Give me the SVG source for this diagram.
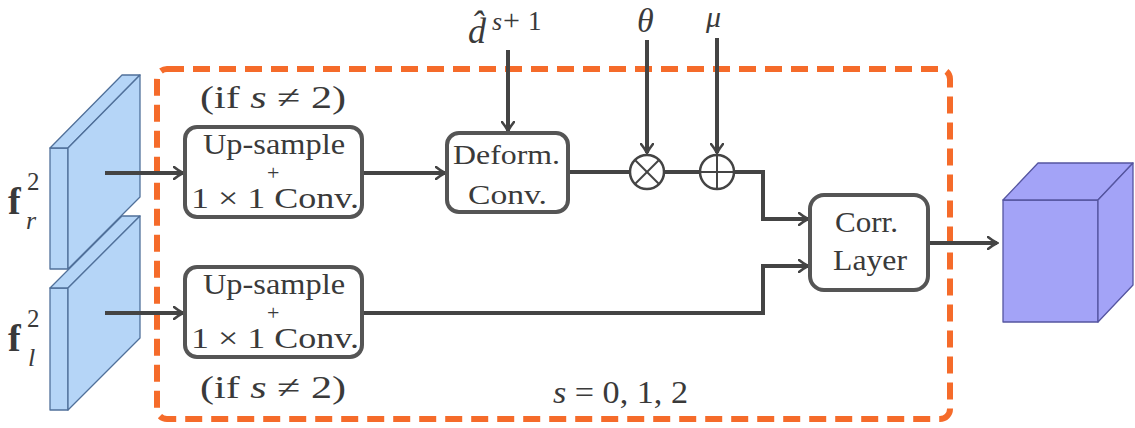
<svg xmlns="http://www.w3.org/2000/svg" width="1135" height="428" viewBox="0 0 1135 428" font-family="'Liberation Serif', serif">
<defs>
<style>
.slab{fill:#b5d5f7;stroke:#50709a;stroke-width:1.3;stroke-linejoin:round}
.cube{fill:#a3a3f7;stroke:#5555a0;stroke-width:1.3;stroke-linejoin:round}
.box{fill:#fff;stroke:#555;stroke-width:4}
.wire{fill:none;stroke:#444;stroke-width:4}
.op{fill:#fff;stroke:#444;stroke-width:2.5}
.t{fill:#3a3a3a}
.m{font-style:italic;fill:#3a3a3a}
.dash{fill:none;stroke:#f56b2a;stroke-width:6;stroke-dasharray:17 9}
</style>
<marker id="arr" viewBox="0 0 12 14" refX="10" refY="7" markerWidth="12" markerHeight="14" markerUnits="userSpaceOnUse" orient="auto">
<path d="M1,1 Q6,5 10,7 Q6,9 1,13" fill="none" stroke="#444" stroke-width="2.6" stroke-linecap="round"/>
</marker>
</defs>
<rect width="1135" height="428" fill="#fff"/>

<g id="feat-r">
<polygon class="slab" points="50,148 68,148 68,269 50,269"/>
<polygon class="slab" points="50,148 122,75 140,75 68,148"/>
<polygon class="slab" points="68,148 140,75 140,197 68,269"/>
</g>
<g id="feat-l">
<polygon class="slab" points="50,288 68,288 68,410 50,410"/>
<polygon class="slab" points="50,288 122,216 140,216 68,288"/>
<polygon class="slab" points="68,288 140,216 140,338 68,410"/>
</g>
<g id="label-fr">
<text class="t" x="8" y="214" font-size="38" font-weight="bold">f</text>
<text class="t" x="27" y="190" font-size="25">2</text>
<text class="m" x="26" y="229" font-size="26">r</text>
</g>
<g id="label-fl">
<text class="t" x="8" y="351" font-size="38" font-weight="bold">f</text>
<text class="t" x="27" y="327" font-size="25">2</text>
<text class="m" x="28" y="366" font-size="26">l</text>
</g>

<g id="stage-box">
<rect class="dash" x="157" y="69" width="793" height="350" rx="10"/>
<text class="m" x="553" y="403" font-size="32" textLength="135" lengthAdjust="spacingAndGlyphs">s <tspan font-style="normal">= 0, 1, 2</tspan></text>
</g>

<g id="connectors">
<line class="wire" x1="105" y1="173" x2="183" y2="173" marker-end="url(#arr)"/>
<line class="wire" x1="105" y1="313" x2="183" y2="313" marker-end="url(#arr)"/>
<line class="wire" x1="362" y1="173" x2="445" y2="173" marker-end="url(#arr)"/>
<line class="wire" x1="568" y1="172" x2="630" y2="172"/>
<line class="wire" x1="664" y1="172" x2="700" y2="172"/>
<polyline class="wire" points="734,172 763,172 763,219 808,219" marker-end="url(#arr)"/>
<polyline class="wire" points="362,313 763,313 763,266 808,266" marker-end="url(#arr)"/>
<line class="wire" x1="928" y1="243" x2="997" y2="243" marker-end="url(#arr)"/>
<line class="wire" x1="508" y1="50" x2="508" y2="131" marker-end="url(#arr)"/>
<line class="wire" x1="647" y1="40" x2="647" y2="153" marker-end="url(#arr)"/>
<line class="wire" x1="717" y1="38" x2="717" y2="153" marker-end="url(#arr)"/>
</g>

<g id="inputs">
<text class="m" x="468" y="43" font-size="36">d&#770;</text>
<text class="m" x="492" y="30" font-size="26">s</text>
<text class="t" x="503" y="30" font-size="30">+</text>
<text class="t" x="528" y="30" font-size="27">1</text>
<text class="m" x="637" y="32" font-size="34">θ</text>
<text class="m" x="706" y="27" font-size="30">μ</text>
</g>

<g id="upsample-top">
<rect class="box" x="185" y="127" width="177" height="90" rx="12"/>
<text class="t" font-size="30"><tspan x="203" y="154" textLength="142" lengthAdjust="spacingAndGlyphs">Up-sample</tspan><tspan x="267" y="180" font-size="22">+</tspan><tspan x="191" y="208" textLength="168" lengthAdjust="spacingAndGlyphs">1 × 1 Conv.</tspan></text>
<text class="t" x="200" y="108" font-size="32" textLength="146" lengthAdjust="spacingAndGlyphs">(if <tspan font-style="italic">s</tspan> ≠ 2)</text>
</g>
<g id="upsample-bottom">
<rect class="box" x="185" y="267" width="177" height="90" rx="12"/>
<text class="t" font-size="30"><tspan x="203" y="294" textLength="142" lengthAdjust="spacingAndGlyphs">Up-sample</tspan><tspan x="267" y="320" font-size="22">+</tspan><tspan x="191" y="348" textLength="168" lengthAdjust="spacingAndGlyphs">1 × 1 Conv.</tspan></text>
<text class="t" x="200" y="398" font-size="32" textLength="146" lengthAdjust="spacingAndGlyphs">(if <tspan font-style="italic">s</tspan> ≠ 2)</text>
</g>
<g id="deform">
<rect class="box" x="447" y="133" width="121" height="79" rx="12"/>
<text class="t" x="453" y="164" font-size="28" textLength="107" lengthAdjust="spacingAndGlyphs">Deform.</text>
<text class="t" x="468" y="204" font-size="28" textLength="79" lengthAdjust="spacingAndGlyphs">Conv.</text>
</g>
<g id="mul">
<circle class="op" cx="647" cy="172" r="17"/>
<line x1="635" y1="160" x2="659" y2="184" stroke="#444" stroke-width="2"/>
<line x1="659" y1="160" x2="635" y2="184" stroke="#444" stroke-width="2"/>
</g>
<g id="add">
<circle class="op" cx="717" cy="172" r="17"/>
<line x1="700" y1="172" x2="734" y2="172" stroke="#444" stroke-width="2"/>
<line x1="717" y1="155" x2="717" y2="189" stroke="#444" stroke-width="2"/>
</g>
<g id="corr">
<rect class="box" x="810" y="195" width="118" height="95" rx="14"/>
<text class="t" x="835" y="232" font-size="30" textLength="63" lengthAdjust="spacingAndGlyphs">Corr.</text>
<text class="t" x="833" y="270" font-size="30" textLength="74" lengthAdjust="spacingAndGlyphs">Layer</text>
</g>
<g id="cost-volume">
<polygon class="cube" points="1003,200 1098,200 1098,322 1003,322"/>
<polygon class="cube" points="1003,200 1038,163 1133,163 1098,200"/>
<polygon class="cube" points="1098,200 1133,163 1133,285 1098,322"/>
</g>
</svg>
